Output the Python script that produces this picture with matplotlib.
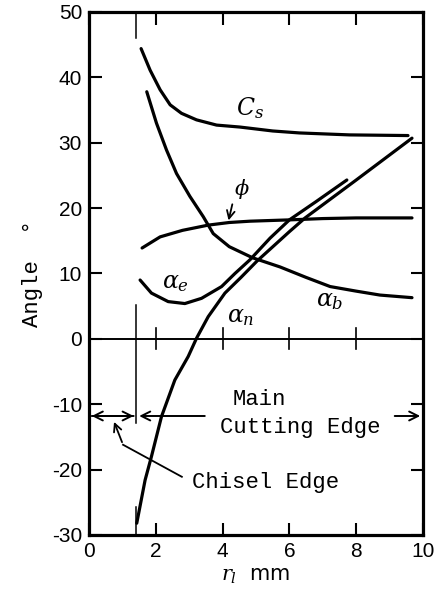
import matplotlib
matplotlib.use("Agg")
import matplotlib.pyplot as plt

plt.rcParams['axes.unicode_minus'] = False
plt.rcParams['mathtext.fontset'] = 'dejavuserif'

# ---- data ----
cs_x = [1.56, 1.83, 2.13, 2.43, 2.77, 3.22, 3.82, 4.52, 5.5, 6.3, 7.8, 9.55]
cs_y = [44.4, 41.1, 38.1, 35.8, 34.5, 33.5, 32.7, 32.4, 31.8, 31.5, 31.2, 31.1]

ab_x = [1.73, 2.02, 2.32, 2.62, 3.02, 3.42, 3.72, 4.2, 4.9, 5.72, 6.5, 7.22, 8.0, 8.71, 9.67]
ab_y = [37.8, 33.0, 28.9, 25.3, 21.8, 18.7, 16.1, 14.1, 12.4, 11.0, 9.4, 8.0, 7.3, 6.7, 6.3]

phi_x = [1.59, 2.13, 2.8, 3.57, 4.2, 4.82, 6.0, 7.0, 8.0, 9.67]
phi_y = [13.9, 15.6, 16.6, 17.4, 17.8, 18.0, 18.2, 18.4, 18.5, 18.5]

ae_x = [1.53, 1.87, 2.37, 2.87, 3.37, 3.97, 4.37, 4.82, 5.42, 6.0, 6.8, 7.72]
ae_y = [9.0, 7.0, 5.7, 5.4, 6.2, 8.0, 10.0, 12.1, 15.4, 18.2, 21.0, 24.3]

an_x = [1.43, 1.68, 1.87, 2.17, 2.57, 2.97, 3.22, 3.57, 4.07, 4.55, 5.03, 6.0, 6.47, 8.0, 9.67]
an_y = [-28.2, -21.6, -18.0, -11.9, -6.3, -2.7, 0.1, 3.4, 7.0, 9.4, 11.9, 16.4, 18.5, 24.3, 30.7]

x_ticks = [0, 2, 4, 6, 8, 10]
y_ticks = [-30, -20, -10, 0, 10, 20, 30, 40, 50]
zero_line_ticks = [2, 4, 6, 8]
chisel_x = 1.42
edge_y = -11.8

fig = plt.figure(figsize=(4.36, 5.97), dpi=100)
ax = fig.add_axes([0.2041, 0.1039, 0.7661, 0.876])
ax.set_xlim(0, 10)
ax.set_ylim(-30, 50)

lw = 2.3
for xs, ys in [(cs_x, cs_y), (ab_x, ab_y), (phi_x, phi_y), (ae_x, ae_y), (an_x, an_y)]:
    ax.plot(xs, ys, color='black', lw=lw, solid_capstyle='round', solid_joinstyle='round')

# zero line with its ticks
ax.axhline(0, color='black', lw=1.4)
for xt in zero_line_ticks:
    ax.plot([xt, xt], [-1.6, 1.7], color='black', lw=1.2)

# chisel boundary vertical line segments
for y0, y1 in [(46.0, 50), (-12.8, 5.2), (-30, -25.7)]:
    ax.plot([chisel_x, chisel_x], [y0, y1], color='black', lw=1.1)

arw = dict(arrowstyle='->', color='black', lw=1.4, mutation_scale=16)
# chisel edge double arrow
ax.annotate('', xy=(0.0, edge_y), xytext=(chisel_x, edge_y), arrowprops=arw)
ax.annotate('', xy=(chisel_x, edge_y), xytext=(0.0, edge_y), arrowprops=arw)
# main cutting edge arrows
ax.annotate('', xy=(chisel_x, edge_y), xytext=(3.55, edge_y), arrowprops=arw)
ax.annotate('', xy=(10.0, edge_y), xytext=(9.07, edge_y), arrowprops=arw)

mono = 'Liberation Mono'
ax.text(4.31, -10.1, 'Main', fontsize=16, family=mono, va='baseline', ha='left')
ax.text(3.92, -14.4, 'Cutting Edge', fontsize=16, family=mono, va='baseline', ha='left')
ax.text(3.08, -22.8, 'Chisel Edge', fontsize=16, family=mono, va='baseline', ha='left')

# chisel edge leader
ax.plot([2.78, 1.02], [-21.1, -16.2], color='black', lw=1.3)
ax.annotate('', xy=(0.72, -12.3), xytext=(1.02, -16.2),
            arrowprops=dict(arrowstyle='->', color='black', lw=1.3, mutation_scale=14))

# curve labels
ax.text(4.82, 35.3, r'$C_s$', fontsize=17, ha='center', va='center')
ax.text(4.58, 23.0, r'$\phi$', fontsize=15, ha='center', va='center')
ax.annotate('', xy=(4.16, 17.7), xytext=(4.31, 21.0),
            arrowprops=dict(arrowstyle='->', color='black', lw=1.3, mutation_scale=14))
ax.text(2.6, 8.7, r'$\alpha_e$', fontsize=17, ha='center', va='center')
ax.text(4.55, 3.5, r'$\alpha_n$', fontsize=17, ha='center', va='center')
ax.text(7.2, 6.0, r'$\alpha_b$', fontsize=17, ha='center', va='center')

ax.set_xticks(x_ticks)
ax.set_yticks(y_ticks)
ax.set_xticklabels([str(v) for v in x_ticks], family='Liberation Sans')
ax.set_yticklabels([str(v) for v in y_ticks], family='Liberation Sans')
ax.tick_params(direction='in', length=9, width=1.5, top=True, right=True,
               labelsize=15, pad=5)
for s in ax.spines.values():
    s.set_linewidth(2.3)

ax.set_xlabel(r'$r_l$  mm', fontsize=15, labelpad=4)
ax.set_ylabel('Angle  \u00b0', fontsize=16, family=mono, labelpad=6)

fig.savefig('out.png', dpi=100)
